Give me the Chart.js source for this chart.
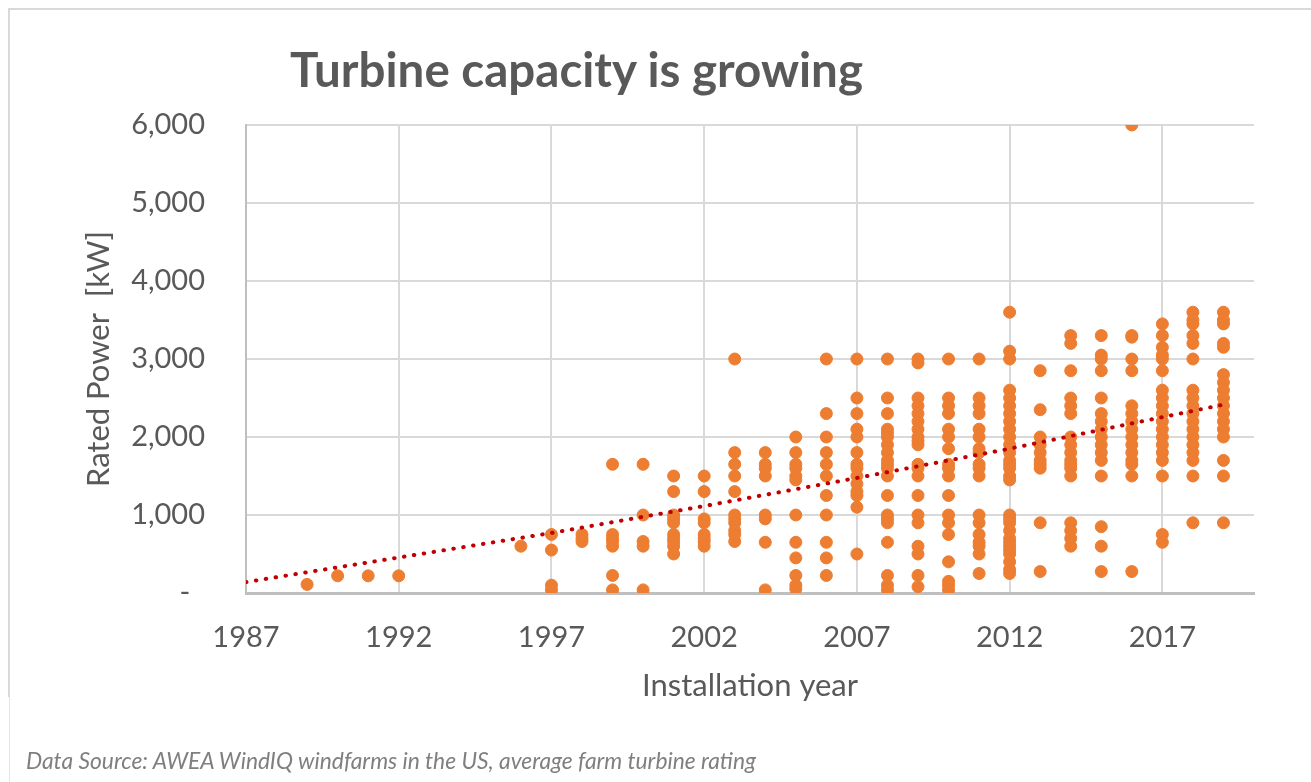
<!DOCTYPE html>
<html>
<head>
<meta charset="utf-8">
<script src="https://cdn.jsdelivr.net/npm/chart.js@4/dist/chart.umd.min.js"></script>
<style>
  html, body { margin: 0; padding: 0; background: #fff; }
  body { width: 1311px; height: 782px; position: relative; overflow: hidden; font-family: Lato, sans-serif; }
  #frame { position: absolute; left: 8px; top: 8px; width: 1400px; height: 687px;
           border-top: 2px solid #d9d9d9; border-left: 2px solid #d9d9d9; }
  #frame2 { position: absolute; left: 9px; top: 697px; width: 0; height: 90px; border-left: 1px solid #e6e6e6; }
  #title { position: absolute; left: 290px; top: 45px; font: bold 47.5px/1 Lato, sans-serif; color: #595959; white-space: nowrap; }
  #note { position: absolute; left: 26px; top: 749px; font: italic 22.8px/1 Lato, sans-serif; color: #7f7f7f; white-space: nowrap; }
  #chart { position: absolute; left: 0; top: 0; }
</style>
</head>
<body>
<div id="frame"></div>
<div id="frame2"></div>
<canvas id="chart" width="1311" height="782"></canvas>
<div id="title">Turbine capacity is growing</div>
<div id="note">Data Source: AWEA WindIQ windfarms in the US, average farm turbine rating</div>
<script>
// installation years and the average turbine rating (kW) of farms built that year
var installYears = [1989, 1990, 1991, 1992, 1996, 1997, 1998, 1999, 2000, 2001, 2002, 2003, 2004, 2005,
  2006, 2007, 2008, 2009, 2010, 2011, 2012, 2013, 2014, 2015, 2016, 2017, 2018, 2019];

var ratingsByYear = [
  [110],
  [220],
  [220],
  [220],
  [600],
  [750, 550, 100, 40],
  [750, 700, 660],
  [1650, 750, 700, 660, 600, 225, 40],
  [1650, 1000, 660, 600, 40],
  [1500, 1300, 1000, 950, 900, 750, 700, 660, 600, 500],
  [1500, 1300, 950, 900, 750, 700, 660, 600],
  [3000, 1800, 1650, 1500, 1300, 1000, 950, 900, 800, 750, 660],
  [1800, 1650, 1600, 1500, 1000, 950, 650, 40],
  [2000, 1800, 1650, 1600, 1500, 1450, 1000, 650, 450, 225, 100, 50],
  [3000, 2300, 2000, 1800, 1650, 1500, 1250, 1000, 650, 450, 225],
  [3000, 2500, 2300, 2100, 2000, 1800, 1650, 1600, 1500, 1400, 1300, 1250, 1100, 500],
  [3000, 2500, 2300, 2100, 2050, 2000, 1900, 1800, 1700, 1650, 1600, 1500, 1250, 1000, 950, 900, 650, 225, 100, 40],
  [3000, 2950, 2500, 2400, 2300, 2200, 2100, 2000, 1950, 1900, 1650, 1600, 1500, 1250, 1000, 900, 600, 500, 225, 80],
  [3000, 2500, 2400, 2300, 2100, 2000, 1850, 1650, 1600, 1500, 1250, 1000, 900, 750, 400, 150, 100, 40],
  [3000, 2500, 2400, 2300, 2100, 2000, 1850, 1800, 1650, 1600, 1500, 1000, 900, 750, 650, 600, 500, 250],
  [3600, 3100, 3000, 2600, 2500, 2400, 2300, 2200, 2100, 2000, 1900, 1800, 1700, 1650, 1600, 1500, 1450,
    1000, 950, 900, 800, 700, 650, 600, 550, 500, 400, 300, 250],
  [2850, 2350, 2000, 1900, 1800, 1700, 1650, 1600, 900, 275],
  [3300, 3200, 2850, 2500, 2400, 2300, 2000, 1900, 1800, 1700, 1650, 1600, 1500, 900, 800, 700, 600],
  [3300, 3050, 3000, 2850, 2500, 2300, 2200, 2100, 2000, 1900, 1800, 1700, 1500, 850, 600, 275],
  [6000, 3300, 3280, 3000, 2850, 2400, 2300, 2200, 2100, 2000, 1900, 1800, 1700, 1650, 1500, 275],
  [3450, 3300, 3150, 3050, 3000, 2850, 2600, 2500, 2400, 2300, 2200, 2100, 2000, 1900, 1800, 1700, 1500, 750, 650],
  [3600, 3500, 3450, 3300, 3200, 3000, 2600, 2500, 2400, 2300, 2200, 2100, 2000, 1900, 1800, 1700, 1500, 900],
  [3600, 3500, 3450, 3200, 3150, 2800, 2700, 2600, 2500, 2400, 2300, 2200, 2100, 2000, 1700, 1500, 900]
];

// dotted trend line
var trendYears = [1987, 1992, 1997, 2002, 2007, 2012, 2017, 2019];
var trendValues = [140, 455, 770, 1115, 1475, 1850, 2255, 2415];

var yearTicks = [1987, 1992, 1997, 2002, 2007, 2012, 2017];
var powerTicks = [0, 1000, 2000, 3000, 4000, 5000, 6000];

var points = [];
installYears.forEach(function(yr, i) {
  ratingsByYear[i].forEach(function(v) { points.push({x: yr, y: v}); });
});
var trend = trendYears.map(function(yr, i) { return {x: yr, y: trendValues[i]}; });

var grey = '#595959';
var tickFont = {family: 'Lato', size: 29};
var titleFont = {family: 'Lato', size: 31};

new Chart('chart', {
  type: 'scatter',
  data: {
    datasets: [
      {
        data: trend,
        showLine: true,
        order: 0,
        pointRadius: 0,
        borderColor: '#c00000',
        borderWidth: 4,
        borderDash: [0.5, 9.5],
        borderCapStyle: 'round'
      },
      {
        data: points,
        order: 1,
        pointRadius: 6,
        pointBackgroundColor: '#ed7d31',
        pointBorderColor: '#ed7d31',
        pointBorderWidth: 1
      }
    ]
  },
  options: {
    responsive: false,
    animation: false,
    devicePixelRatio: 1,
    layout: {padding: {left: 70, top: 125, right: 57, bottom: 70}},
    plugins: {
      legend: {display: false},
      tooltip: {enabled: false}
    },
    scales: {
      x: {
        type: 'linear',
        min: 1987,
        max: 2020,
        afterBuildTicks: function(scale) {
          scale.ticks = yearTicks.map(function(v) { return {value: v}; });
        },
        afterFit: function(scale) { scale.height = 119; },
        grid: {color: '#d9d9d9', lineWidth: 2, drawTicks: false},
        border: {color: '#bfbfbf', width: 3},
        ticks: {
          color: grey, font: tickFont, padding: 27, maxRotation: 0,
          callback: function(v) { return String(v); }
        },
        title: {display: true, text: 'Installation year', color: grey,
          font: titleFont, padding: {top: 0, bottom: 7}}
      },
      y: {
        min: 0,
        max: 6000,
        afterBuildTicks: function(scale) {
          scale.ticks = powerTicks.map(function(v) { return {value: v}; });
        },
        afterFit: function(scale) { scale.width = 176; },
        grid: {color: '#d9d9d9', lineWidth: 2, drawTicks: false},
        border: {color: '#bfbfbf', width: 2},
        ticks: {
          color: grey, font: tickFont, padding: 41,
          callback: function(v) { return v === 0 ? '-  ' : v.toLocaleString('en-US'); }
        },
        title: {display: true, text: 'Rated Power  [kW]', color: grey,
          font: titleFont, padding: {top: 10, bottom: 0}}
      }
    }
  }
});
</script>
</body>
</html>
